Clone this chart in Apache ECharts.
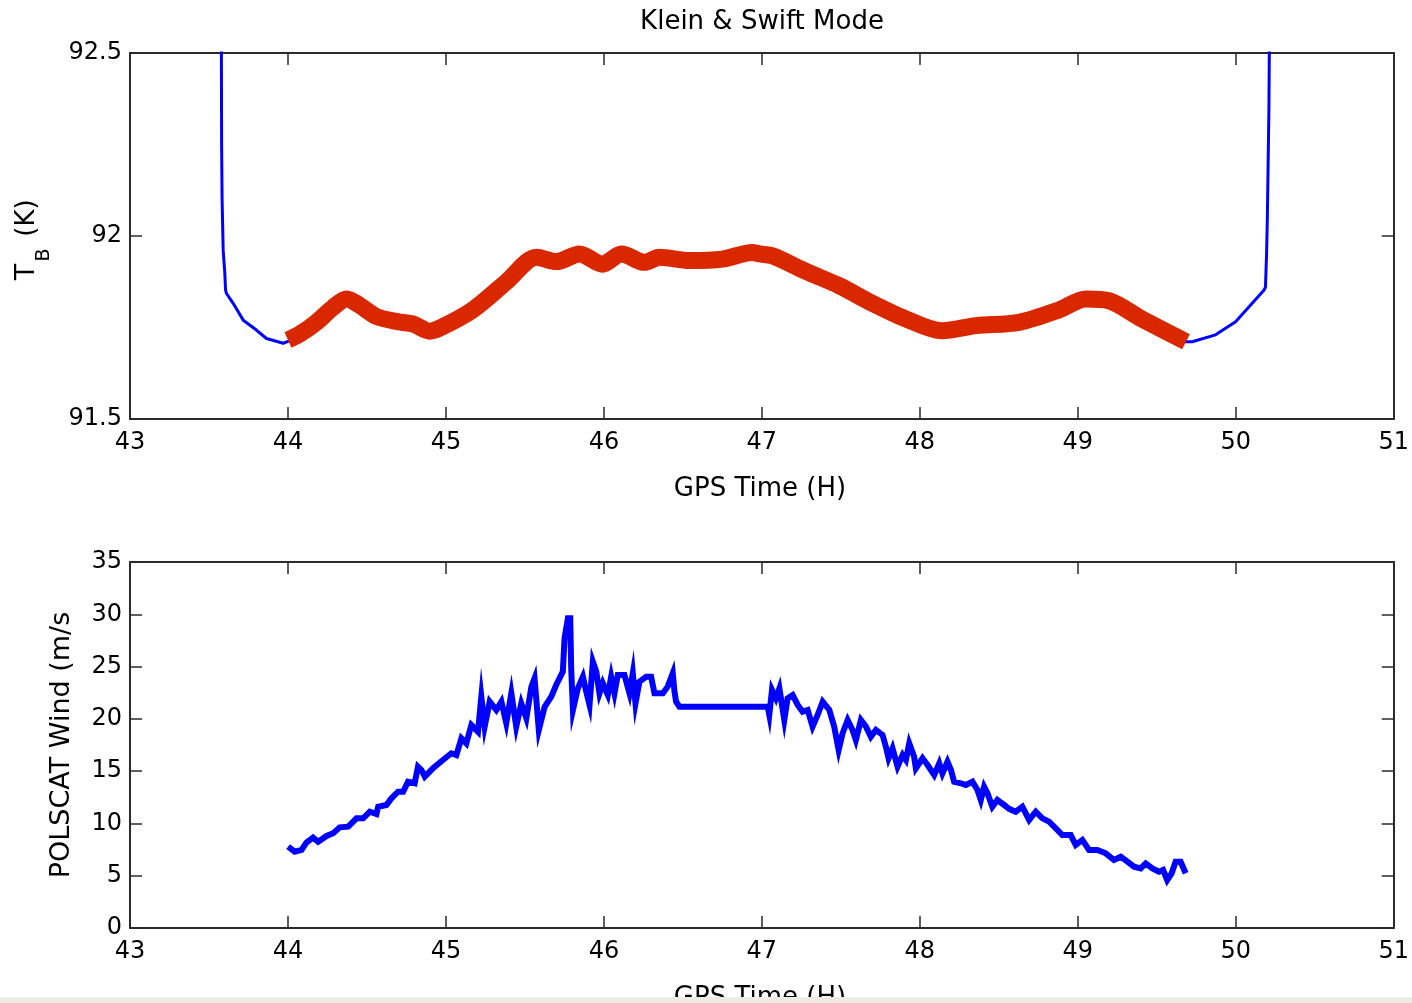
<!DOCTYPE html>
<html>
<head>
<meta charset="utf-8">
<script src="https://cdn.jsdelivr.net/npm/echarts@6/dist/echarts.min.js"></script>
<style>
html,body{margin:0;padding:0;background:#fff;}
#c{width:1412px;height:1003px;}
</style>
</head>
<body>
<div id="c"></div>
<script>
// ---------- DATA ----------
const chartTitle = 'Klein & Swift Mode';
const xAxisTitle = 'GPS Time (H)';
const windAxisTitle = 'POLSCAT Wind (m/s';

// Top panel: brightness temperature, blue edges (full record)
const tbLeftTime  = [43.578, 43.580, 43.583, 43.590, 43.600, 43.605, 43.611, 43.653, 43.717, 43.800, 43.864, 43.970, 44.000];
const tbLeftValue = [92.60, 92.25, 92.10, 91.96, 91.90, 91.852, 91.843, 91.816, 91.770, 91.743, 91.720, 91.707, 91.712];
const tbRightTime  = [49.685, 49.724, 49.872, 49.999, 50.104, 50.178, 50.188, 50.195, 50.200, 50.205, 50.210, 50.214];
const tbRightValue = [91.711, 91.711, 91.730, 91.766, 91.816, 91.852, 91.860, 91.950, 92.050, 92.200, 92.350, 92.600];

// Top panel: highlighted (red) segment
const tbCoreTime  = [44.000, 44.075, 44.180, 44.286, 44.372, 44.455, 44.560, 44.707, 44.790, 44.897, 44.960,
                     45.169, 45.384, 45.574, 45.700, 45.846, 45.991, 46.111, 46.257, 46.352, 46.541, 46.750,
                     46.940, 46.984, 47.066, 47.281, 47.490, 47.700, 47.914, 48.140, 48.357, 48.628, 48.881,
                     49.052, 49.198, 49.406, 49.685];
const tbCoreValue = [91.716, 91.732, 91.764, 91.805, 91.828, 91.810, 91.780, 91.765, 91.760, 91.740, 91.748,
                     91.798, 91.875, 91.942, 91.930, 91.951, 91.923, 91.951, 91.928, 91.942, 91.933, 91.937,
                     91.955, 91.951, 91.946, 91.903, 91.864, 91.816, 91.773, 91.741, 91.755, 91.764, 91.798,
                     91.828, 91.823, 91.773, 91.711];

// Bottom panel: POLSCAT wind
const windTime = [44.001, 44.043, 44.086, 44.117, 44.159, 44.191, 44.244, 44.286, 44.328, 44.381, 44.434, 44.476,
                  44.518, 44.560, 44.571, 44.623, 44.655, 44.697, 44.729, 44.760, 44.802, 44.823, 44.845, 44.866,
                  44.918, 44.981, 45.034, 45.066, 45.098, 45.129, 45.161, 45.203, 45.224, 45.245, 45.277, 45.319,
                  45.351, 45.382, 45.414, 45.445, 45.477, 45.509, 45.541, 45.561, 45.588, 45.625, 45.667, 45.698,
                  45.740, 45.751, 45.772, 45.787, 45.793, 45.804, 45.835, 45.867, 45.888, 45.909, 45.930, 45.952,
                  45.972, 45.993, 46.025, 46.046, 46.067, 46.088, 46.130, 46.162, 46.183, 46.200, 46.225, 46.268,
                  46.299, 46.320, 46.373, 46.404, 46.436, 46.447, 46.457, 46.478, 47.037, 47.047, 47.064, 47.089,
                  47.111, 47.142, 47.163, 47.195, 47.227, 47.258, 47.290, 47.321, 47.353, 47.385, 47.427, 47.458,
                  47.486, 47.511, 47.543, 47.574, 47.595, 47.627, 47.659, 47.690, 47.722, 47.764, 47.785, 47.802,
                  47.827, 47.859, 47.891, 47.912, 47.933, 47.964, 47.975, 48.017, 48.049, 48.091, 48.123, 48.143,
                  48.175, 48.197, 48.217, 48.260, 48.291, 48.333, 48.365, 48.386, 48.407, 48.428, 48.459, 48.491,
                  48.534, 48.565, 48.607, 48.649, 48.692, 48.734, 48.776, 48.818, 48.861, 48.902, 48.955, 48.987,
                  49.029, 49.071, 49.124, 49.177, 49.229, 49.272, 49.314, 49.356, 49.398, 49.430, 49.472, 49.514,
                  49.540, 49.566, 49.594, 49.619, 49.651, 49.683];
const windValue = [7.78, 7.30, 7.46, 8.16, 8.64, 8.25, 8.80, 9.06, 9.63, 9.69, 10.49, 10.49,
                   11.12, 10.90, 11.60, 11.76, 12.40, 13.03, 13.03, 13.99, 13.84, 15.43, 15.11, 14.47,
                   15.27, 16.07, 16.71, 16.54, 18.14, 17.66, 19.41, 18.77, 22.12, 19.25, 21.64, 20.85,
                   21.64, 19.57, 22.44, 19.25, 21.48, 20.05, 23.08, 23.88, 18.93, 21.16, 22.12, 23.24,
                   24.51, 27.70, 29.62, 29.62, 24.83, 20.85, 22.92, 24.03, 22.60, 21.33, 25.47, 24.51,
                   22.44, 23.40, 22.28, 24.03, 22.44, 24.19, 24.19, 22.44, 24.36, 21.48, 23.56, 24.03,
                   24.03, 22.44, 22.44, 23.08, 24.36, 22.60, 21.64, 21.16, 21.16, 20.37, 22.76, 21.96,
                   22.92, 19.89, 21.96, 22.28, 21.33, 20.69, 20.85, 19.25, 20.37, 21.64, 20.85, 19.25,
                   17.02, 18.62, 19.89, 18.93, 17.98, 19.89, 19.25, 18.29, 18.93, 18.46, 17.34, 16.23,
                   17.18, 15.43, 16.54, 16.07, 17.66, 16.38, 15.27, 16.23, 15.59, 14.63, 15.75, 14.79,
                   15.90, 15.11, 13.99, 13.84, 13.68, 13.99, 13.20, 12.24, 13.51, 12.88, 11.60, 12.24,
                   11.76, 11.40, 11.12, 11.60, 10.33, 11.12, 10.49, 10.17, 9.53, 8.89, 8.89, 7.94,
                   8.42, 7.46, 7.46, 7.14, 6.50, 6.82, 6.34, 5.86, 5.70, 6.18, 5.70, 5.38,
                   5.55, 4.59, 5.23, 6.34, 6.34, 5.23];

const xTicks = { min: 43, max: 51, interval: 1 };
const tbTicks = { min: 91.5, max: 92.5, interval: 0.5 };
const windTicks = { min: 0, max: 35, interval: 5 };

// ---------- BUILD ----------
const pairs = (xs, ys) => xs.map((x, i) => [x, ys[i]]);
const tbFull = pairs(tbLeftTime, tbLeftValue)
  .concat(pairs(tbCoreTime, tbCoreValue))
  .concat(pairs(tbRightTime, tbRightValue));

const FONT = 'DejaVu Sans';
const AX = '#2b2b2b';

function xAxisDef(grid, pos, showLabel) {
  return {
    type: 'value', gridIndex: grid, position: pos,
    min: xTicks.min, max: xTicks.max, interval: xTicks.interval,
    axisLine: { show: true, onZero: false, lineStyle: { color: AX, width: 2 } },
    axisTick: { show: true, inside: true, length: 12, lineStyle: { color: AX, width: 1.5 } },
    axisLabel: { show: showLabel, color: '#000', fontFamily: FONT, fontSize: 24, margin: 12 },
    splitLine: { show: false }
  };
}
function yAxisDef(grid, pos, t, showLabel) {
  return {
    type: 'value', gridIndex: grid, position: pos,
    min: t.min, max: t.max, interval: t.interval,
    axisLine: { show: true, onZero: false, lineStyle: { color: AX, width: 2 } },
    axisTick: { show: true, inside: true, length: 12, lineStyle: { color: AX, width: 1.5 } },
    axisLabel: { show: showLabel, color: '#000', fontFamily: FONT, fontSize: 24, margin: 8 },
    splitLine: { show: false }
  };
}

const chart = echarts.init(document.getElementById('c'), null, { renderer: 'canvas' });
chart.setOption({
  backgroundColor: '#ffffff',
  animation: false,
  grid: [
    { left: 130, right: 17, top: 53, height: 366 },
    { left: 130, right: 17, top: 562, height: 366 }
  ],
  xAxis: [
    xAxisDef(0, 'bottom', true),
    xAxisDef(0, 'top', false),
    xAxisDef(1, 'bottom', true),
    xAxisDef(1, 'top', false)
  ],
  yAxis: [
    yAxisDef(0, 'left', tbTicks, true),
    yAxisDef(0, 'right', tbTicks, false),
    yAxisDef(1, 'left', windTicks, true),
    yAxisDef(1, 'right', windTicks, false)
  ],
  series: [
    {
      type: 'line', xAxisIndex: 0, yAxisIndex: 0, data: tbFull,
      showSymbol: false, symbol: 'none', clip: true, z: 2,
      lineStyle: { color: '#0000ff', width: 3, join: 'round' }
    },
    {
      type: 'line', xAxisIndex: 0, yAxisIndex: 0, data: pairs(tbCoreTime, tbCoreValue),
      showSymbol: false, symbol: 'none', clip: true, z: 3, smooth: 0.3,
      lineStyle: { color: '#d92800', width: 17, join: 'round', cap: 'butt' }
    },
    {
      type: 'line', xAxisIndex: 2, yAxisIndex: 2, data: pairs(windTime, windValue),
      showSymbol: false, symbol: 'none', clip: true, z: 2,
      lineStyle: { color: '#0000ff', width: 6, join: 'miter' }
    }
  ],
  graphic: [
    { type: 'text', x: 762, y: 22, z: 50,
      style: { text: chartTitle, fontFamily: FONT, fontSize: 26, fill: '#000', textAlign: 'center', textVerticalAlign: 'middle' } },
    { type: 'text', x: 760, y: 489, z: 50,
      style: { text: xAxisTitle, fontFamily: FONT, fontSize: 26, fill: '#000', textAlign: 'center', textVerticalAlign: 'middle' } },
    { type: 'text', x: 760, y: 998, z: 50,
      style: { text: xAxisTitle, fontFamily: FONT, fontSize: 26, fill: '#000', textAlign: 'center', textVerticalAlign: 'middle' } },
    // T_B (K)
    { type: 'text', x: 27, y: 272, rotation: Math.PI / 2, z: 50,
      style: { text: 'T', fontFamily: FONT, fontSize: 27, fill: '#000', textAlign: 'center', textVerticalAlign: 'middle' } },
    { type: 'text', x: 44, y: 255, rotation: Math.PI / 2, z: 50,
      style: { text: 'B', fontFamily: FONT, fontSize: 19, fill: '#000', textAlign: 'center', textVerticalAlign: 'middle' } },
    { type: 'text', x: 27, y: 218, rotation: Math.PI / 2, z: 50,
      style: { text: '(K)', fontFamily: FONT, fontSize: 26, fill: '#000', textAlign: 'center', textVerticalAlign: 'middle' } },
    { type: 'text', x: 62, y: 745, rotation: Math.PI / 2, z: 50,
      style: { text: windAxisTitle, fontFamily: FONT, fontSize: 27, fill: '#000', textAlign: 'center', textVerticalAlign: 'middle' } },
    { type: 'rect', z: 100, shape: { x: 0, y: 997, width: 1412, height: 6 }, style: { fill: '#eeebe2' } }
  ]
});
</script>
</body>
</html>
